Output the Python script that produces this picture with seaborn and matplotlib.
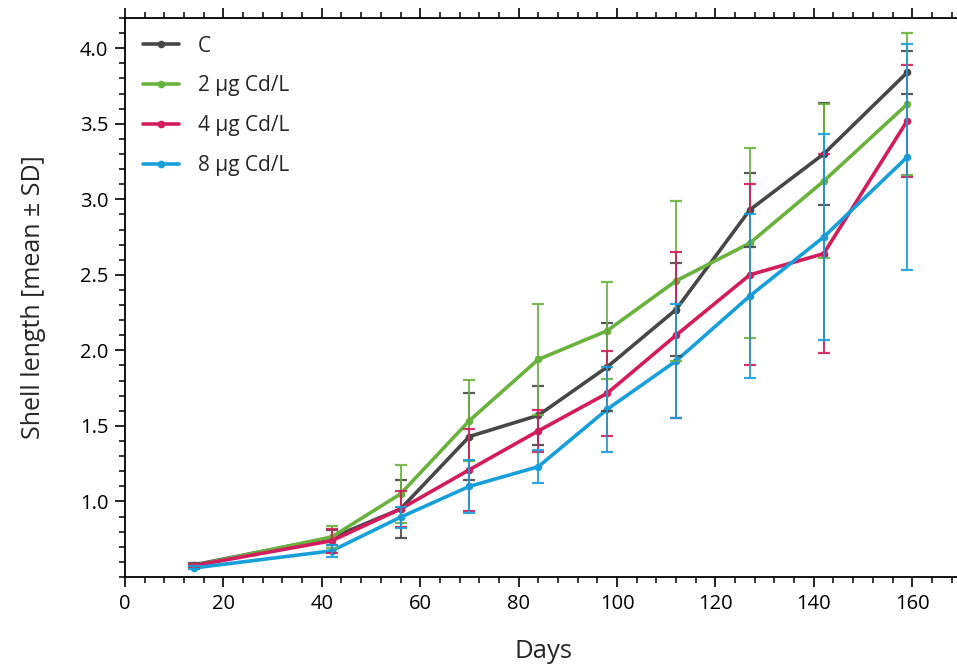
import numpy as np
import pandas as pd
import matplotlib
matplotlib.use("Agg")
import matplotlib.pyplot as plt
import seaborn as sns
from matplotlib.ticker import MultipleLocator

days = [14, 42, 56, 70, 84, 98, 112, 127, 142, 159]
groups = ["C", "2 µg Cd/L", "4 µg Cd/L", "8 µg Cd/L"]
c_mean = [0.58, 0.76, 0.95, 1.43, 1.57, 1.89, 2.27, 2.93, 3.30, 3.84]
c_sd = [0.01, 0.05, 0.19, 0.29, 0.195, 0.29, 0.31, 0.245, 0.34, 0.14]
g2_mean = [0.575, 0.765, 1.05, 1.535, 1.94, 2.13, 2.46, 2.71, 3.12, 3.63]
g2_sd = [0.01, 0.075, 0.19, 0.27, 0.37, 0.32, 0.53, 0.63, 0.51, 0.47]
g4_mean = [0.575, 0.74, 0.95, 1.21, 1.467, 1.716, 2.10, 2.50, 2.64, 3.52]
g4_sd = [0.01, 0.08, 0.12, 0.27, 0.14, 0.28, 0.55, 0.60, 0.66, 0.37]
g8_mean = [0.56, 0.673, 0.896, 1.10, 1.23, 1.61, 1.93, 2.36, 2.75, 3.28]
g8_sd = [0.01, 0.04, 0.07, 0.175, 0.11, 0.28, 0.38, 0.545, 0.68, 0.75]
colors = ["#474747", "#6ab23e", "#d21c5c", "#179fda"]

means = [c_mean, g2_mean, g4_mean, g8_mean]
sds = [c_sd, g2_sd, g4_sd, g8_sd]
df = pd.DataFrame({
    "Days": days * 4,
    "Length": sum(means, []),
    "SD": sum(sds, []),
    "Group": [g for g in groups for _ in days],
})

sns.set_style("white")
plt.rcParams["font.family"] = ["Open Sans", "DejaVu Sans"]

fig = plt.figure(figsize=(9.57, 6.66), dpi=100)
ax = fig.add_axes([0.1306, 0.1336, 0.874, 0.8394])

palette = dict(zip(groups, colors))
sns.lineplot(data=df, x="Days", y="Length", hue="Group", palette=palette,
             marker="o", markersize=5.5, markeredgewidth=0, linewidth=2.6,
             ax=ax, legend=True, zorder=3)

for g, col in zip(groups, colors):
    sub = df[df["Group"] == g]
    ax.errorbar(sub["Days"], sub["Length"], yerr=sub["SD"], fmt="none",
                ecolor=col, elinewidth=1.4, capsize=4.5, capthick=1.6,
                zorder=4, alpha=0.9)

ax.set_xlim(0, 170)
ax.set_ylim(0.5, 4.2)
ax.xaxis.set_major_locator(MultipleLocator(20))
ax.xaxis.set_minor_locator(MultipleLocator(4))
ax.set_yticks([1.0, 1.5, 2.0, 2.5, 3.0, 3.5, 4.0])
ax.yaxis.set_minor_locator(MultipleLocator(0.1))
ax.set_yticklabels(["1.0", "1.5", "2.0", "2.5", "3.0", "3.5", "4.0"])

for side in ["left", "bottom", "top"]:
    ax.spines[side].set_visible(True)
    ax.spines[side].set_linewidth(1.3)
    ax.spines[side].set_color("black")
ax.spines["right"].set_visible(False)

ax.tick_params(axis="both", which="major", direction="out", length=7, width=1.2,
               colors="black", labelsize=14.5, pad=5)
ax.tick_params(axis="both", which="minor", direction="out", length=4, width=1.1,
               colors="black")
ax.tick_params(axis="x", which="both", bottom=True, top=True, labeltop=False)
ax.tick_params(axis="y", which="both", left=True, right=False)

ax.set_xlabel("Days", fontsize=18.5, labelpad=18)
ax.set_ylabel("Shell length [mean ± SD]", fontsize=18, labelpad=24)

leg = ax.legend(loc="upper left", frameon=False, fontsize=15,
                handlelength=1.75, handletextpad=0.9, labelspacing=0.9,
                borderaxespad=0.45, bbox_to_anchor=(0.0, 1.0))
for line in leg.get_lines():
    line.set_linewidth(2.6)

fig.savefig("out.png", dpi=100)
